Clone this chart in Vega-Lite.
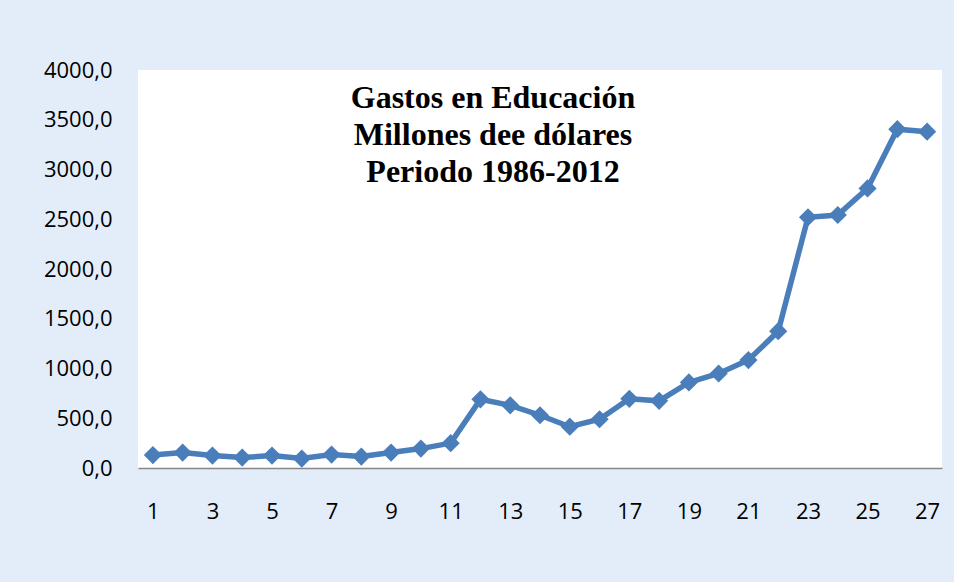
{
  "$schema": "https://vega.github.io/schema/vega-lite/v6.json",
  "autosize": {"type": "none"},
  "width": 804,
  "height": 398,
  "padding": {"left": 138, "top": 70, "right": 12, "bottom": 114},
  "background": "#e3edf9",
  "view": {"fill": "white", "stroke": null},
  "title": {
    "text": ["Gastos en Educación", "Millones dee dólares", "Periodo 1986-2012"],
    "font": "Liberation Serif",
    "fontSize": 32,
    "fontWeight": "bold",
    "color": "#000000",
    "lineHeight": 37,
    "anchor": "middle",
    "frame": "group",
    "baseline": "top",
    "dx": -47,
    "offset": -130
  },
  "data": {
    "values": [
      {"n": 1, "v": 130}, {"n": 2, "v": 155}, {"n": 3, "v": 125},
      {"n": 4, "v": 105}, {"n": 5, "v": 125}, {"n": 6, "v": 95},
      {"n": 7, "v": 135}, {"n": 8, "v": 115}, {"n": 9, "v": 155},
      {"n": 10, "v": 195}, {"n": 11, "v": 250}, {"n": 12, "v": 690},
      {"n": 13, "v": 630}, {"n": 14, "v": 530}, {"n": 15, "v": 415},
      {"n": 16, "v": 490}, {"n": 17, "v": 695}, {"n": 18, "v": 675},
      {"n": 19, "v": 860}, {"n": 20, "v": 950}, {"n": 21, "v": 1085},
      {"n": 22, "v": 1375}, {"n": 23, "v": 2520}, {"n": 24, "v": 2543},
      {"n": 25, "v": 2810}, {"n": 26, "v": 3405}, {"n": 27, "v": 3380}
    ]
  },
  "mark": {
    "type": "line",
    "color": "#4a7ebb",
    "strokeWidth": 5.5,
    "point": {"shape": "diamond", "size": 330, "filled": true, "color": "#4a7ebb", "opacity": 1}
  },
  "encoding": {
    "x": {
      "field": "n",
      "type": "quantitative",
      "scale": {"domain": [0.5, 27.5], "nice": false, "zero": false},
      "axis": {
        "title": null,
        "values": [1, 3, 5, 7, 9, 11, 13, 15, 17, 19, 21, 23, 25, 27],
        "format": "d",
        "grid": false,
        "ticks": false,
        "domain": true,
        "domainColor": "#868686",
        "domainWidth": 1.5,
        "labelFont": "Open Sans",
        "labelFontSize": 22,
        "labelColor": "#000000",
        "labelPadding": 33,
        "labelFlush": false,
        "labelOverlap": false
      }
    },
    "y": {
      "field": "v",
      "type": "quantitative",
      "scale": {"domain": [0, 4000], "nice": false},
      "axis": {
        "title": null,
        "values": [0, 500, 1000, 1500, 2000, 2500, 3000, 3500, 4000],
        "labelExpr": "replace(format(datum.value, '.1f'), '.', ',')",
        "grid": false,
        "ticks": false,
        "domain": false,
        "labelFont": "Open Sans",
        "labelFontSize": 22,
        "labelColor": "#000000",
        "labelPadding": 26,
        "labelFlush": false,
        "labelOverlap": false
      }
    }
  }
}
